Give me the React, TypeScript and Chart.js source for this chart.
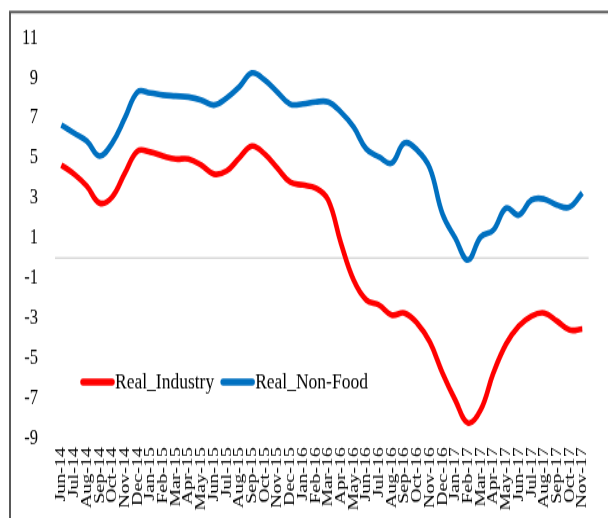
import React, { useEffect, useRef } from "react";
import { Chart, registerables } from "chart.js";

Chart.register(...registerables);

const labels = [
  "Jun-14", "Jul-14", "Aug-14", "Sep-14", "Oct-14", "Nov-14", "Dec-14",
  "Jan-15", "Feb-15", "Mar-15", "Apr-15", "May-15", "Jun-15", "Jul-15", "Aug-15", "Sep-15", "Oct-15", "Nov-15", "Dec-15",
  "Jan-16", "Feb-16", "Mar-16", "Apr-16", "May-16", "Jun-16", "Jul-16", "Aug-16", "Sep-16", "Oct-16", "Nov-16", "Dec-16",
  "Jan-17", "Feb-17", "Mar-17", "Apr-17", "May-17", "Jun-17", "Jul-17", "Aug-17", "Sep-17", "Oct-17", "Nov-17",
];

const realIndustry = [
  4.65, 4.2, 3.6, 2.75, 3.05, 4.25, 5.35,
  5.3, 5.1, 4.95, 4.95, 4.65, 4.2, 4.35, 5.0, 5.6, 5.2, 4.5, 3.8,
  3.65, 3.5, 2.9, 0.75, -1.1, -2.1, -2.35, -2.85, -2.75, -3.25, -4.2, -5.75,
  -7.1, -8.25, -7.6, -5.75, -4.3, -3.4, -2.9, -2.75, -3.15, -3.6, -3.55,
];

const realNonFood = [
  6.65, 6.25, 5.85, 5.1, 5.75, 7.0, 8.3,
  8.25, 8.15, 8.1, 8.05, 7.9, 7.65, 8.0, 8.55, 9.25, 8.9, 8.3, 7.7,
  7.7, 7.8, 7.8, 7.3, 6.55, 5.45, 5.05, 4.75, 5.75, 5.4, 4.5, 2.2,
  1.0, -0.1, 1.05, 1.4, 2.5, 2.15, 2.9, 2.95, 2.65, 2.55, 3.25,
];

const yMin = -9;
const yMax = 11;
const yStep = 2;

const seriesNames = ["Real_Industry", "Real_Non-Food"];
const seriesColors = ["#FF0000", "#0070C0"];

const FONT = "'Liberation Serif', 'Times New Roman', serif";

// The reference picture is stretched vertically; draw in a compressed
// canvas and let CSS stretch it to the page size.
const W = 608;
const H_PAGE = 518;
const H = 400;
const K = H / H_PAGE;

const framePlugin = {
  id: "frameAndZero",
  beforeDatasetsDraw(chart: any) {
    const { ctx, chartArea, scales } = chart;
    const y0 = scales.y.getPixelForValue(0);
    ctx.save();
    ctx.strokeStyle = "#d9d9d9";
    ctx.lineWidth = 1.4;
    ctx.beginPath();
    ctx.moveTo(chartArea.left, y0);
    ctx.lineTo(chartArea.right, y0);
    ctx.stroke();
    ctx.restore();
  },
  afterDraw(chart: any) {
    const { ctx, width, height, chartArea } = chart;
    ctx.save();
    ctx.strokeStyle = "#595959";
    ctx.lineWidth = 2;
    ctx.beginPath();
    ctx.moveTo(10, height);
    ctx.lineTo(10, 12 * K);
    ctx.lineTo(width, 12 * K);
    ctx.stroke();
    const ly = chartArea.top + 344 * K;
    let lx = chartArea.left + 26;
    ctx.font = `17.5px ${FONT}`;
    ctx.textBaseline = "middle";
    ctx.lineCap = "round";
    seriesNames.forEach((name, i) => {
      ctx.strokeStyle = seriesColors[i];
      ctx.lineWidth = 5.5;
      ctx.beginPath();
      ctx.moveTo(lx + 2, ly);
      ctx.lineTo(lx + 31, ly);
      ctx.stroke();
      ctx.fillStyle = "#000";
      ctx.fillText(name, lx + 34, ly);
      lx += 34 + ctx.measureText(name).width + 7;
    });
    ctx.restore();
  },
};

export default function App() {
  const canvasRef = useRef<HTMLCanvasElement | null>(null);

  useEffect(() => {
    if (!canvasRef.current) return;
    const chart = new Chart(canvasRef.current, {
      type: "line",
      data: {
        labels,
        datasets: [
          {
            label: seriesNames[0],
            data: realIndustry,
            borderColor: seriesColors[0],
            backgroundColor: seriesColors[0],
            borderWidth: 4.6,
            pointRadius: 0,
            tension: 0.4,
            fill: false,
          },
          {
            label: seriesNames[1],
            data: realNonFood,
            borderColor: seriesColors[1],
            backgroundColor: seriesColors[1],
            borderWidth: 4.6,
            pointRadius: 0,
            tension: 0.4,
            fill: false,
          },
        ],
      },
      options: {
        responsive: false,
        animation: false,
        layout: { padding: { left: 0, right: 13, top: 38 * K, bottom: 0 } },
        plugins: {
          legend: { display: false },
          tooltip: { enabled: false },
        },
        scales: {
          x: {
            offset: true,
            grid: { display: false, drawTicks: false },
            border: { display: false },
            ticks: {
              autoSkip: false,
              minRotation: 90,
              maxRotation: 90,
              padding: 9 * K,
              color: "#000",
              font: { family: FONT, size: 15.5 },
            },
            afterFit(scale: any) {
              scale.height = 80 * K;
            },
          },
          y: {
            min: yMin,
            max: yMax,
            grid: { display: false, drawTicks: false },
            border: { display: false },
            ticks: {
              stepSize: yStep,
              padding: 17,
              color: "#000",
              font: { family: FONT, size: 16.5 },
            },
            afterFit(scale: any) {
              scale.width = 55;
            },
          },
        },
      },
      plugins: [framePlugin],
    });
    return () => chart.destroy();
  }, []);

  return (
    <div style={{ position: "fixed", left: 0, top: 0, width: W, height: H_PAGE, background: "#fff" }}>
      <canvas ref={canvasRef} width={W} height={H} style={{ width: W, height: H_PAGE, display: "block" }} />
    </div>
  );
}
